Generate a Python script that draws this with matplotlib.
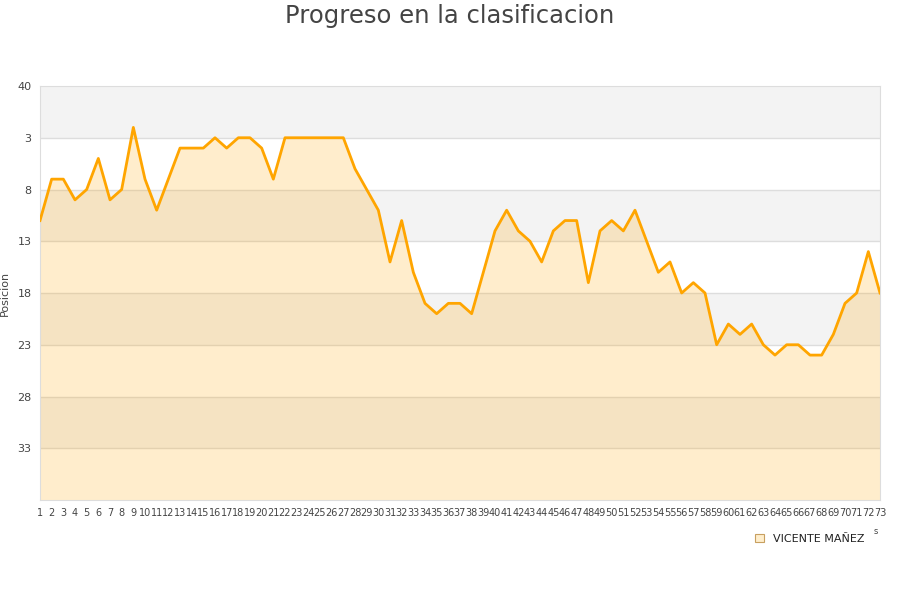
import numpy as np
import matplotlib.pyplot as plt
from matplotlib.patches import Patch

# jornadas y posicion en cada una
jornadas = list(range(1, 74))
posicion = [11, 7, 7, 9, 8, 5, 9, 8, 2, 7,
            10, 7, 4, 4, 4, 3, 4, 3, 3, 4,
            7, 3, 3, 3, 3, 3, 3, 6, 8, 10,
            15, 11, 16, 19, 20, 19, 19, 20, 16, 12,
            10, 12, 13, 15, 12, 11, 11, 17, 12, 11,
            12, 10, 13, 16, 15, 18, 17, 18, 23, 21,
            22, 21, 23, 24, 23, 23, 24, 24, 22, 19,
            18, 14, 18]

ytick_pos = [-2, 3, 8, 13, 18, 23, 28, 33]
ytick_lab = ['40', '3', '8', '13', '18', '23', '28', '33']
fondo = 38
nombre = 'VICENTE MAÑEZ'

fig = plt.figure(figsize=(9, 6), dpi=100)
ax = fig.add_axes([40/900, 1 - 500/600, 840/900, 414/600])

# bandas grises alternas
for y0 in [-2, 8, 18, 28]:
    ax.axhspan(y0, y0 + 5, color='#f3f3f3', lw=0, zorder=0)
for y in ytick_pos[1:]:
    ax.axhline(y, color='#dddddd', lw=1, zorder=1)

ax.fill_between(jornadas, posicion, fondo, color='#ffa500', alpha=0.2, lw=0, zorder=2)
ax.plot(jornadas, posicion, color='#ffa500', lw=2, zorder=3)

ax.set_xlim(1, 73)
ax.set_ylim(fondo, -2)
ax.set_xticks(jornadas)
ax.set_xticklabels([str(j) for j in jornadas], fontsize=7, color='#444444')
ax.set_yticks(ytick_pos)
ax.set_yticklabels(ytick_lab, fontsize=8, color='#444444')
ax.tick_params(length=0, pad=6)
for s in ax.spines.values():
    s.set_color('#dddddd')
ax.set_ylabel('Posicion', fontsize=8, color='#444444')
ax.yaxis.set_label_coords(-30/840, 0.5)

fig.text(0.5, 0.973, 'Progreso en la clasificacion', ha='center', va='center',
         fontsize=17.5, color='#444444')
fig.text(876/900, 1 - 532/600, 's', ha='center', va='center', fontsize=6, color='#444444')

ax.legend(handles=[Patch(facecolor='#ffeecc', edgecolor='#c8a060', lw=0.8)],
          labels=[nombre], frameon=False, fontsize=8,
          loc='center left', bbox_to_anchor=(745/900, 1 - 539/600),
          bbox_transform=fig.transFigure, handlelength=0.8, handleheight=0.8,
          handletextpad=0.8, labelcolor='#222222')

fig.savefig('out.png', dpi=100)
